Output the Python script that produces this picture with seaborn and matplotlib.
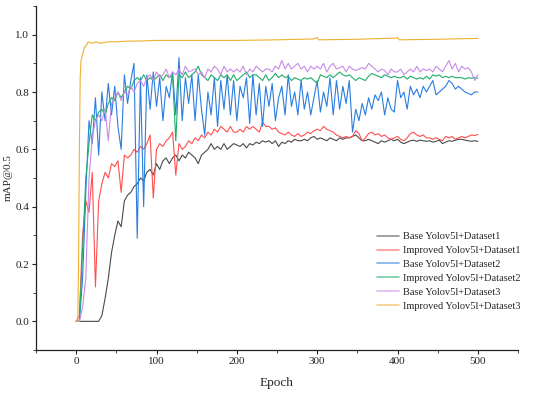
import numpy as np
import pandas as pd
import matplotlib
matplotlib.use("Agg")
import matplotlib.pyplot as plt
import seaborn as sns
from matplotlib.ticker import MultipleLocator

# ---------------- data ----------------
series_names = [
    "Base Yolov5l+Dataset1",
    "Improved Yolov5l+Dataset1",
    "Base Yolov5l+Dataset2",
    "Improved Yolov5l+Dataset2",
    "Base Yolov5l+Dataset3",
    "Improved Yolov5l+Dataset3",
]

epochs = np.arange(0, 501, 4)

base_d1 = [
    0, 0, 0, 0, 0, 0, 0, 0, 0.02, 0.08,
    0.15, 0.24, 0.30, 0.35, 0.33, 0.42, 0.44, 0.45, 0.47, 0.48,
    0.50, 0.49, 0.52, 0.53, 0.51, 0.55, 0.53, 0.56, 0.57, 0.55,
    0.57, 0.58, 0.56, 0.58, 0.57, 0.59, 0.58, 0.57, 0.55, 0.58,
    0.59, 0.60, 0.62, 0.60, 0.61, 0.60, 0.62, 0.60, 0.61, 0.62,
    0.615, 0.61, 0.62, 0.605, 0.62, 0.615, 0.625, 0.62, 0.63, 0.625,
    0.63, 0.62, 0.63, 0.61, 0.625, 0.62, 0.63, 0.625, 0.635, 0.63,
    0.63, 0.635, 0.63, 0.64, 0.645, 0.635, 0.64, 0.635, 0.63, 0.64,
    0.635, 0.63, 0.64, 0.635, 0.64, 0.64, 0.645, 0.65, 0.64, 0.63,
    0.63, 0.635, 0.63, 0.625, 0.62, 0.63, 0.625, 0.63, 0.635, 0.63,
    0.635, 0.625, 0.62, 0.625, 0.63, 0.632, 0.628, 0.632, 0.63, 0.628,
    0.63, 0.625, 0.628, 0.632, 0.62, 0.625, 0.63, 0.628, 0.632, 0.635,
    0.635, 0.632, 0.63, 0.628, 0.63, 0.628,
]

improved_d1 = [
    0, 0.02, 0.30, 0.42, 0.38, 0.52, 0.12, 0.42, 0.48, 0.52,
    0.50, 0.55, 0.54, 0.56, 0.45, 0.58, 0.57, 0.58, 0.60, 0.59,
    0.61, 0.60, 0.62, 0.65, 0.43, 0.60, 0.62, 0.61, 0.63, 0.64,
    0.66, 0.51, 0.62, 0.60, 0.61, 0.63, 0.62, 0.64, 0.63, 0.65,
    0.64, 0.66, 0.65, 0.67, 0.66, 0.68, 0.67, 0.66, 0.68, 0.66,
    0.66, 0.67, 0.66, 0.68, 0.67, 0.68, 0.67, 0.66, 0.695, 0.68,
    0.68, 0.67, 0.675, 0.66, 0.655, 0.65, 0.66, 0.65, 0.645, 0.655,
    0.645, 0.65, 0.66, 0.655, 0.665, 0.67, 0.665, 0.68, 0.67, 0.665,
    0.66, 0.65, 0.645, 0.64, 0.645, 0.64, 0.645, 0.665, 0.655, 0.63,
    0.64, 0.655, 0.66, 0.65, 0.655, 0.645, 0.65, 0.64, 0.635, 0.64,
    0.645, 0.635, 0.63, 0.64, 0.655, 0.66, 0.65, 0.645, 0.65, 0.64,
    0.64, 0.635, 0.64, 0.635, 0.63, 0.645, 0.64, 0.645, 0.635, 0.64,
    0.645, 0.64, 0.645, 0.65, 0.648, 0.652,
]

base_d2 = [
    0, 0, 0.15, 0.45, 0.70, 0.62, 0.78, 0.58, 0.80, 0.70,
    0.83, 0.72, 0.82, 0.68, 0.60, 0.86, 0.76, 0.84, 0.90, 0.29,
    0.85, 0.40, 0.86, 0.74, 0.87, 0.75, 0.85, 0.70, 0.82, 0.78,
    0.87, 0.72, 0.92, 0.70, 0.85, 0.76, 0.86, 0.70, 0.86, 0.74,
    0.65, 0.80, 0.72, 0.85, 0.68, 0.84, 0.74, 0.86, 0.72, 0.84,
    0.70, 0.82, 0.78, 0.85, 0.69, 0.86, 0.72, 0.83, 0.68, 0.82,
    0.75, 0.83, 0.70, 0.78, 0.82, 0.72, 0.86, 0.75, 0.80, 0.72,
    0.84, 0.74, 0.80, 0.72, 0.78, 0.84, 0.73, 0.80, 0.75, 0.85,
    0.72, 0.84, 0.74, 0.82, 0.76, 0.84, 0.66, 0.74, 0.70, 0.76,
    0.72, 0.78, 0.74, 0.79, 0.77, 0.80, 0.72, 0.78, 0.74, 0.73,
    0.84, 0.78, 0.80, 0.74, 0.82, 0.79, 0.81, 0.78, 0.82, 0.80,
    0.82, 0.84, 0.79, 0.80, 0.81, 0.82, 0.84, 0.83, 0.81, 0.82,
    0.81, 0.80, 0.795, 0.79, 0.80, 0.80,
]

improved_d2 = [
    0, 0, 0.25, 0.50, 0.62, 0.72, 0.70, 0.73, 0.74, 0.72,
    0.76, 0.78, 0.77, 0.80, 0.78, 0.80, 0.82, 0.81, 0.84, 0.85,
    0.84, 0.86, 0.84, 0.85, 0.84, 0.85, 0.86, 0.84, 0.86, 0.85,
    0.86, 0.63, 0.86, 0.85, 0.87, 0.85, 0.86, 0.87, 0.89, 0.86,
    0.85, 0.84, 0.86, 0.85, 0.84, 0.86, 0.85, 0.86, 0.84, 0.86,
    0.84, 0.85, 0.86, 0.87, 0.85, 0.86, 0.86, 0.85, 0.84, 0.86,
    0.84, 0.85, 0.865, 0.85, 0.86, 0.85, 0.855, 0.84, 0.85, 0.845,
    0.84, 0.85, 0.845, 0.85, 0.84, 0.83, 0.86, 0.855, 0.85, 0.86,
    0.85, 0.86, 0.87, 0.86, 0.855, 0.86, 0.85, 0.84, 0.85, 0.845,
    0.84, 0.855, 0.865, 0.86, 0.855, 0.85, 0.86, 0.855, 0.85, 0.855,
    0.85, 0.85, 0.855, 0.845, 0.855, 0.85, 0.845, 0.85, 0.845, 0.855,
    0.845, 0.86, 0.855, 0.86, 0.85, 0.855, 0.85, 0.855, 0.85, 0.85,
    0.85, 0.845, 0.85, 0.848, 0.85, 0.848,
]

base_d3 = [
    0, 0, 0.05, 0.15, 0.50, 0.64, 0.70, 0.72, 0.70, 0.74,
    0.63, 0.76, 0.78, 0.80, 0.77, 0.80, 0.79, 0.82, 0.80, 0.83,
    0.84, 0.82, 0.85, 0.86, 0.84, 0.87, 0.85, 0.86, 0.88, 0.85,
    0.87, 0.86, 0.88, 0.86, 0.89, 0.87, 0.875, 0.88, 0.86, 0.87,
    0.85, 0.88, 0.87, 0.89, 0.88, 0.86, 0.89, 0.87, 0.88, 0.87,
    0.88, 0.87, 0.89, 0.86, 0.88, 0.87, 0.89, 0.88, 0.87, 0.88,
    0.88, 0.87, 0.89, 0.88, 0.91, 0.88, 0.90, 0.88, 0.89, 0.90,
    0.88, 0.89, 0.87, 0.89, 0.88, 0.89, 0.88, 0.90, 0.87, 0.89,
    0.90, 0.88, 0.885, 0.89, 0.87, 0.89, 0.88, 0.875, 0.88, 0.885,
    0.88, 0.90, 0.89, 0.88, 0.87, 0.88, 0.875, 0.86, 0.88, 0.87,
    0.87, 0.88, 0.86, 0.87, 0.88, 0.87, 0.89, 0.87, 0.88, 0.875,
    0.88, 0.87, 0.89, 0.88, 0.87, 0.89, 0.91, 0.88, 0.90, 0.87,
    0.89, 0.88, 0.885, 0.87, 0.84, 0.86,
]

improved_d3_epochs = [0, 2, 3, 4, 5, 6, 8, 10, 12, 15, 20, 25, 30, 40, 50, 60,
                      80, 100, 150, 200, 250, 295, 300, 302, 350, 398, 400,
                      402, 450, 500]
improved_d3 = [0, 0, 0.20, 0.60, 0.85, 0.91, 0.93, 0.955, 0.96, 0.975, 0.97,
               0.975, 0.97, 0.975, 0.975, 0.977, 0.978, 0.98, 0.98, 0.98,
               0.982, 0.985, 0.99, 0.982, 0.984, 0.988, 0.99, 0.982, 0.984,
               0.987]

colors = ["#4a4a4a", "#ff4f4f", "#2a7de1", "#1fae68", "#c88be6", "#f0b030"]

x_ticks = [0, 100, 200, 300, 400, 500]
y_ticks = [0.0, 0.2, 0.4, 0.6, 0.8, 1.0]

# ---------------- dataframe ----------------
frames = []
for name, vals in zip(series_names[:5], [base_d1, improved_d1, base_d2, improved_d2, base_d3]):
    frames.append(pd.DataFrame({"Epoch": epochs, "mAP": vals, "Model": name}))
frames.append(pd.DataFrame({"Epoch": improved_d3_epochs, "mAP": improved_d3,
                            "Model": series_names[5]}))
df = pd.concat(frames, ignore_index=True)

# ---------------- plot ----------------
sns.set_theme(style="ticks")
plt.rcParams["font.family"] = ["Liberation Serif", "DejaVu Serif"]

fig = plt.figure(figsize=(5.5, 3.95), dpi=100)
ax = fig.add_axes([36 / 550, 45 / 395, 482 / 550, 344 / 395])

sns.lineplot(data=df, x="Epoch", y="mAP", hue="Model", hue_order=series_names,
             palette=colors, estimator=None, sort=True, linewidth=0.8, ax=ax,
             legend=True)

ax.set_xlim(-50, 550)
ax.set_ylim(-0.1, 1.1)
ax.set_xticks(x_ticks)
ax.set_yticks(y_ticks)
ax.set_yticklabels([f"{v:.1f}" for v in y_ticks])
ax.xaxis.set_minor_locator(MultipleLocator(50))
ax.yaxis.set_minor_locator(MultipleLocator(0.1))
ax.tick_params(axis="both", which="major", direction="out", length=3,
               width=0.8, labelsize=8, pad=2, colors="#222222")
ax.tick_params(axis="both", which="minor", direction="out", length=2,
               width=0.6)
for s in ["top", "right"]:
    ax.spines[s].set_visible(False)
for s in ["left", "bottom"]:
    ax.spines[s].set_linewidth(0.9)
    ax.spines[s].set_color("#222222")

ax.set_xlabel("Epoch", fontsize=9.5, labelpad=8)
ax.set_ylabel("mAP@0.5", fontsize=8, labelpad=2)

leg = ax.legend(loc="upper left", bbox_to_anchor=(377 / 550, (395 - 232) / 395),
                bbox_transform=fig.transFigure, frameon=False, fontsize=7.5,
                handlelength=2.1, handletextpad=0.4, labelspacing=0.44,
                borderpad=0, borderaxespad=0)
for line in leg.get_lines():
    line.set_linewidth(1.2)
    line.set_alpha(0.6)

fig.savefig("out.png", dpi=100)
